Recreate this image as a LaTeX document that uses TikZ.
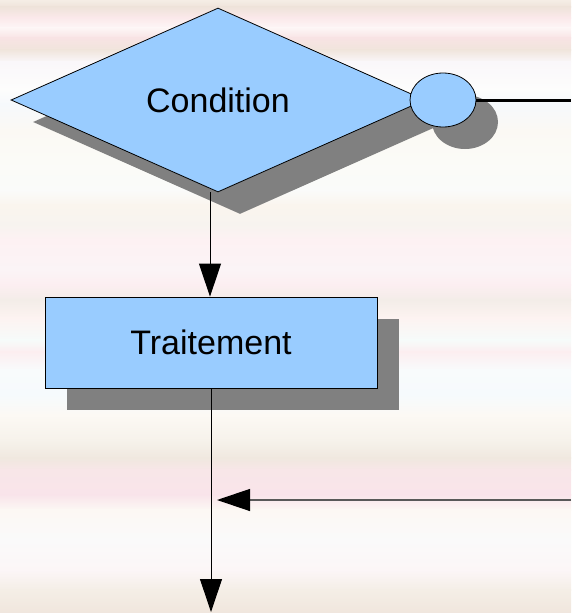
\documentclass[tikz,border=0pt]{standalone}
\usepackage{fontspec}
\setmainfont{Liberation Sans}
\usetikzlibrary{shapes.geometric,shadows,arrows.meta}
\definecolor{boxblue}{HTML}{99CCFF}
\definecolor{shadowgray}{HTML}{808080}
\definecolor{bg0}{HTML}{F5EEE6}
\definecolor{bg1}{HTML}{EFE3DA}
\definecolor{bg2}{HTML}{FBE9EB}
\definecolor{bg3}{HTML}{FDF6F6}
\definecolor{bg4}{HTML}{F8E3E4}
\definecolor{bg5}{HTML}{F0E5DC}
\definecolor{bg6}{HTML}{FAF7FA}
\definecolor{bg7}{HTML}{FDFDFC}
\definecolor{bg8}{HTML}{F6F9FC}
\definecolor{bg9}{HTML}{FBF9F4}
\definecolor{bg10}{HTML}{FBFBF7}
\definecolor{bg11}{HTML}{FAFBFA}
\definecolor{bg12}{HTML}{FAF5EE}
\definecolor{bg13}{HTML}{F7F3EF}
\definecolor{bg14}{HTML}{FDF1F3}
\definecolor{bg15}{HTML}{FBF4F6}
\definecolor{bg16}{HTML}{FCEEF1}
\definecolor{bg17}{HTML}{F3EDE8}
\definecolor{bg18}{HTML}{FDF3F1}
\definecolor{bg19}{HTML}{F6FBFA}
\definecolor{bg20}{HTML}{FCEEF0}
\definecolor{bg21}{HTML}{F8FBFC}
\definecolor{bg22}{HTML}{F6FAFD}
\definecolor{bg23}{HTML}{FCF9F4}
\definecolor{bg24}{HTML}{F6F2EB}
\definecolor{bg25}{HTML}{F0E8DF}
\definecolor{bg26}{HTML}{F8E6E8}
\definecolor{bg27}{HTML}{F9E4EA}
\definecolor{bg28}{HTML}{FCF8F4}
\definecolor{bg29}{HTML}{FAFAFA}
\definecolor{bg30}{HTML}{FCF6F7}
\definecolor{bg31}{HTML}{F4EEE6}
\definecolor{bg32}{HTML}{F0E6DD}
\tikzset{
  shapeshadow/.style={drop shadow={shadow xshift=22pt, shadow yshift=-22pt, fill=shadowgray, opacity=1}},
  flowshape/.style={draw=black, line width=0.8pt, fill=boxblue, shapeshadow,
    font=\fontsize{34}{40}\selectfont, inner sep=0pt},
  decision/.style={flowshape, diamond, minimum width=414pt, minimum height=184pt},
  process/.style={flowshape, rectangle, minimum width=332pt, minimum height=91pt},
  connector/.style={flowshape, ellipse, minimum width=66pt, minimum height=54pt},
  arr/.style={line width=1pt, -{Triangle[length=33pt,width=22pt,fill=black,color=black]}},
}
\begin{document}
\begin{tikzpicture}[x=1pt,y=-1pt]
\useasboundingbox (0,0) rectangle (571,613);
% background stripes
\foreach \ya/\i/\yb/\j in {0/0/7/1, 7/1/18/2, 18/2/28/3, 28/3/38/4, 38/4/50/5, 50/5/62/6, 62/6/90/7,
  90/7/104/8, 104/8/130/9, 130/9/160/10, 160/10/190/11, 190/11/205/12, 205/12/225/13, 225/13/240/14,
  240/14/270/15, 270/15/285/16, 285/16/300/17, 300/17/318/18, 318/18/340/19, 340/19/352/20,
  352/20/370/21, 370/21/395/22, 395/22/415/23, 415/23/440/24, 440/24/458/25, 458/25/470/26,
  470/26/495/27, 495/27/510/28, 510/28/540/29, 540/29/570/30, 570/30/590/31, 590/31/613/32}
  \shade[top color=bg\i, bottom color=bg\j] (0,\ya-0.4) rectangle (571,\yb+0.4);
% nodes
\node[decision] (cond) at (218,100) {Condition};
\node[connector] (conn) at (443,100) {};
\node[process] (trt) at (211,342.5) {Traitement};
\coordinate (exitR) at (571,100);
\coordinate (inR) at (571,500);
\coordinate (outB) at (211,612);
\coordinate (join) at (211,500);
% connectors
\draw[line width=3pt] (conn.east) -- (exitR);
\draw[arr] ([xshift=-8pt]cond.south) -- ([xshift=-1pt]trt.north);
\draw[arr] (trt.south) -- (outB);
\draw[arr, draw=black!65, line width=1.3pt] (inR) -- ([xshift=6pt]join);
\end{tikzpicture}
\end{document}
